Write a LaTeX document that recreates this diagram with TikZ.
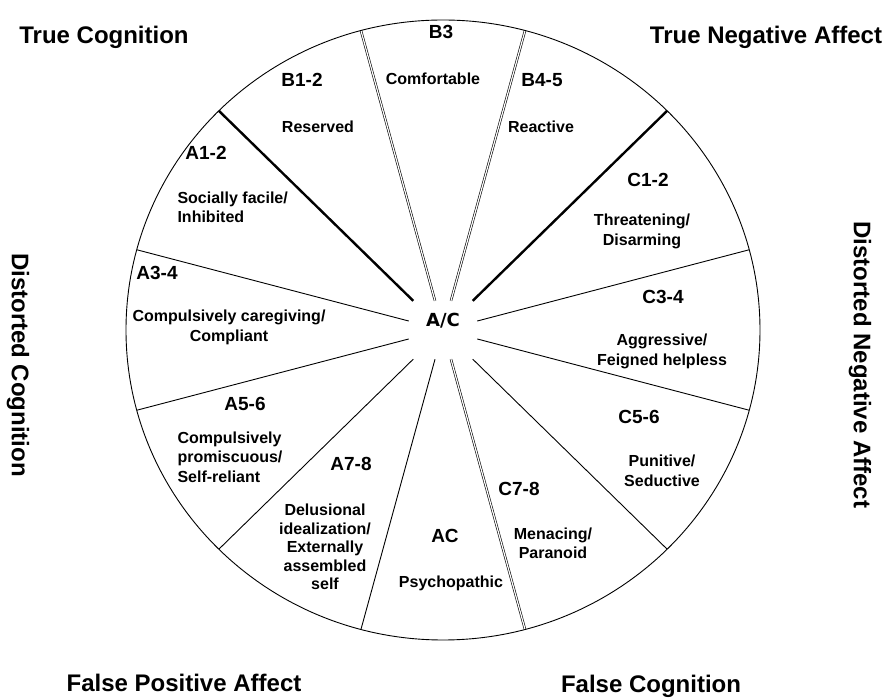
\documentclass[tikz,border=0pt]{standalone}
\usepackage{fontspec}
\setmainfont{Liberation Sans}
\newfontfamily\hubfont{DejaVu Sans}

\begin{document}
\begin{tikzpicture}[x=1pt,y=1pt,
  code/.style={font=\fontsize{19}{22}\selectfont\bfseries},
  desc/.style={font=\fontsize{16}{19.5}\selectfont\bfseries,align=center},
  corner/.style={font=\fontsize{24}{28}\selectfont\bfseries},
  hub/.style={rectangle,inner sep=0pt,minimum width=68pt,minimum height=58pt,
    text height=13.1pt,text depth=19.9pt,font=\hubfont\fontsize{18}{20}\selectfont\bfseries},
  plain/.style={line width=0.9pt},
  heavy/.style={line width=2.4pt},
  twin/.style={double,double distance=1.2pt,line width=0.6pt}]
\useasboundingbox (-443,-370) rectangle (443,330);

\node[hub] (ac) at (0,0) {A/C};

% spokes out to the rim
\foreach \ang/\sty in {15/plain,45/heavy,75/twin,105/twin,135/heavy,165/plain,
                       195/plain,225/plain,255/plain,285/twin,315/plain,345/plain}{
  \coordinate (rim\ang) at (\ang:317pt and 310pt);
  \draw[\sty] (ac) -- (rim\ang);
}
\draw[plain] (0,0) ellipse [x radius=317, y radius=310];

% segments
\node[code] (b3) at (-2,298) {B3};
\node[desc] (b3t) at (-10,251) {Comfortable};
\node[code] (b12) at (-141,250) {B1-2};
\node[desc] (b12t) at (-125,203) {Reserved};
\node[code] (b45) at (99,250) {B4-5};
\node[desc] (b45t) at (98,203) {Reactive};
\node[code] (a12) at (-237,177) {A1-2};
\node[desc,align=left,anchor=west] (a12t) at (-269,122.5) {Socially facile/\\Inhibited};
\node[code] (c12) at (205,150) {C1-2};
\node[desc] (c12t) at (199,98.5) {Threatening/\\Disarming};
\node[code] (c34) at (220,33) {C3-4};
\node[desc] (c34t) at (219,-21.5) {Aggressive/\\Feigned helpless};
\node[code] (c56) at (196,-87) {C5-6};
\node[desc] (c56t) at (219,-141) {Punitive/\\Seductive};
\node[code] (c78) at (76,-159) {C7-8};
\node[desc] (c78t) at (110,-213.5) {Menacing/\\Paranoid};
\node[code] (acseg) at (2,-206) {AC};
\node[desc] (acsegt) at (8,-253) {Psychopathic};
\node[code] (a78) at (-92,-134) {A7-8};
\node[desc,font=\fontsize{16}{18.4}\selectfont\bfseries] (a78t) at (-118,-217)
  {Delusional\\idealization/\\Externally\\assembled\\self};
\node[code] (a56) at (-198,-74) {A5-6};
\node[desc,align=left,anchor=west] (a56t) at (-269,-127) {Compulsively\\promiscuous/\\Self-reliant};
\node[code] (a34) at (-286,57) {A3-4};
\node[desc] (a34t) at (-214,2.5) {Compulsively caregiving/\\Compliant};

% outer titles
\node[corner] (tc) at (-339,293) {True Cognition};
\node[corner] (tna) at (323,293) {True Negative Affect};
\node[corner,rotate=-90] (dc) at (-425,-35) {Distorted Cognition};
\node[corner,rotate=-90] (dna) at (417,-35) {Distorted Negative Affect};
\node[corner] (fpa) at (-259,-353) {False Positive Affect};
\node[corner] (fc) at (208,-356) {False Cognition};
\end{tikzpicture}
\end{document}
